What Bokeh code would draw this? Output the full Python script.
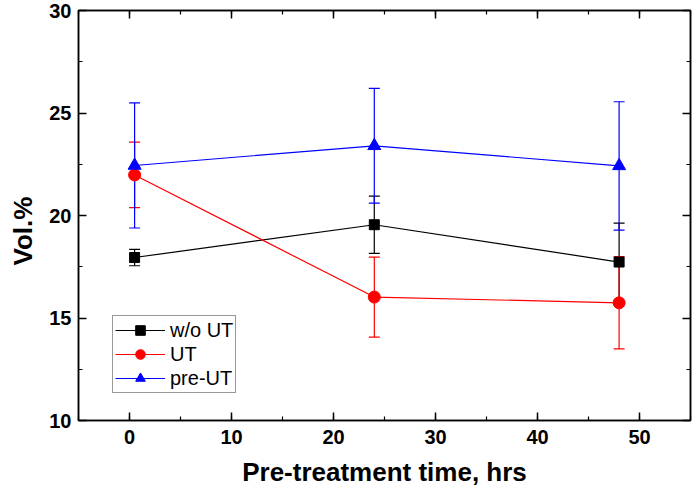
from bokeh.plotting import figure
from bokeh.models import (ColumnDataSource, Whisker, TeeHead, Legend, LegendItem,
                          LinearAxis, SingleIntervalTicker, Range1d, Title,
                          CustomLabelingPolicy)
from bokeh.embed import file_html
from bokeh.resources import INLINE

# Pre-treatment time (hrs)
hours = [0.5, 24, 48]

# Vol.% with error bars for each treatment
wo_ut = [17.95, 19.55, 17.73]
wo_ut_err = [0.4, 1.4, 1.9]
ut = [21.98, 16.02, 15.74]
ut_err = [1.6, 1.95, 2.25]
pre_ut = [22.44, 23.4, 22.42]
pre_ut_err = [3.05, 2.8, 3.13]

x_tick_step = 10
y_tick_step = 5

FONT = "Liberation Sans"

p = figure(width=692, height=490, output_backend="svg", toolbar_location=None,
           x_range=Range1d(-5, 55), y_range=Range1d(10, 30),
           min_border_left=78, min_border_right=2, min_border_top=10, min_border_bottom=70,
           x_axis_location=None, y_axis_location=None)
p.grid.visible = False
p.outline_line_color = "black"
p.outline_line_width = 1.5
p.background_fill_color = "white"
p.border_fill_color = "white"


def make_axis(step, labels=True, **kw):
    ax = LinearAxis(ticker=SingleIntervalTicker(interval=step, num_minor_ticks=2), **kw)
    ax.axis_line_color = "black"
    ax.axis_line_width = 1.5
    ax.major_tick_in = 8
    ax.major_tick_out = 0
    ax.minor_tick_in = 4
    ax.minor_tick_out = 0
    ax.major_tick_line_width = 1.5
    ax.minor_tick_line_width = 1.2
    if labels:
        ax.major_label_text_font = FONT
        ax.major_label_text_font_style = "bold"
        ax.major_label_text_font_size = "20px"
        ax.major_label_text_color = "black"
    else:
        # mirrored frame ticks only, no tick labels
        ax.major_label_policy = CustomLabelingPolicy(code="return []")
        ax.major_label_text_font_size = "0px"
        ax.major_label_standoff = 0
    return ax


xb = make_axis(x_tick_step, axis_label="Pre-treatment time, hrs")
xb.major_label_standoff = 9
xb.axis_label_standoff = 10
xb.axis_label_text_font = FONT
xb.axis_label_text_font_style = "bold"
xb.axis_label_text_font_size = "26px"
xb.axis_label_text_color = "black"
p.add_layout(xb, "below")

yl = make_axis(y_tick_step)
yl.major_label_standoff = 7
p.add_layout(yl, "left")

p.add_layout(make_axis(x_tick_step, labels=False), "above")
p.add_layout(make_axis(y_tick_step, labels=False), "right")

# y-axis title, a little below mid-height of the frame
ytitle = Title(text="Vol.%", align="left", offset=155, standoff=14,
               vertical_align="top",
               text_font=FONT, text_font_style="bold", text_font_size="26px",
               text_color="black")
p.add_layout(ytitle, "left")

series = [
    ("w/o UT", wo_ut, wo_ut_err, "black", "square", 10),
    ("UT", ut, ut_err, "#ff0000", "circle", 12),
    ("pre-UT", pre_ut, pre_ut_err, "#0000ff", "triangle", 13),
]

items = []
for name, vals, errs, color, marker, size in series:
    src = ColumnDataSource(dict(
        x=hours, y=vals,
        lo=[v - e for v, e in zip(vals, errs)],
        hi=[v + e for v, e in zip(vals, errs)],
    ))
    w = Whisker(source=src, base="x", upper="hi", lower="lo",
                line_color=color, line_width=1.2,
                upper_head=TeeHead(size=11, line_color=color, line_width=1.2),
                lower_head=TeeHead(size=11, line_color=color, line_width=1.2))
    p.add_layout(w)
    ln = p.line("x", "y", source=src, line_color=color, line_width=1.2)
    sc = p.scatter("x", "y", source=src, marker=marker, size=size,
                   fill_color=color, line_color=color)
    items.append(LegendItem(label=name, renderers=[ln, sc]))

legend = Legend(items=items, location=(34, 27))
legend.label_text_font = FONT
legend.label_text_font_size = "20px"
legend.label_text_color = "black"
legend.glyph_width = 50
legend.glyph_height = 24
legend.label_height = 24
legend.label_standoff = 5
legend.spacing = 0
legend.padding = 2
legend.margin = 0
legend.border_line_color = "#333333"
legend.border_line_width = 1.2
legend.background_fill_alpha = 1
p.add_layout(legend, "center")

open("out.html", "w").write(file_html(p, INLINE))
